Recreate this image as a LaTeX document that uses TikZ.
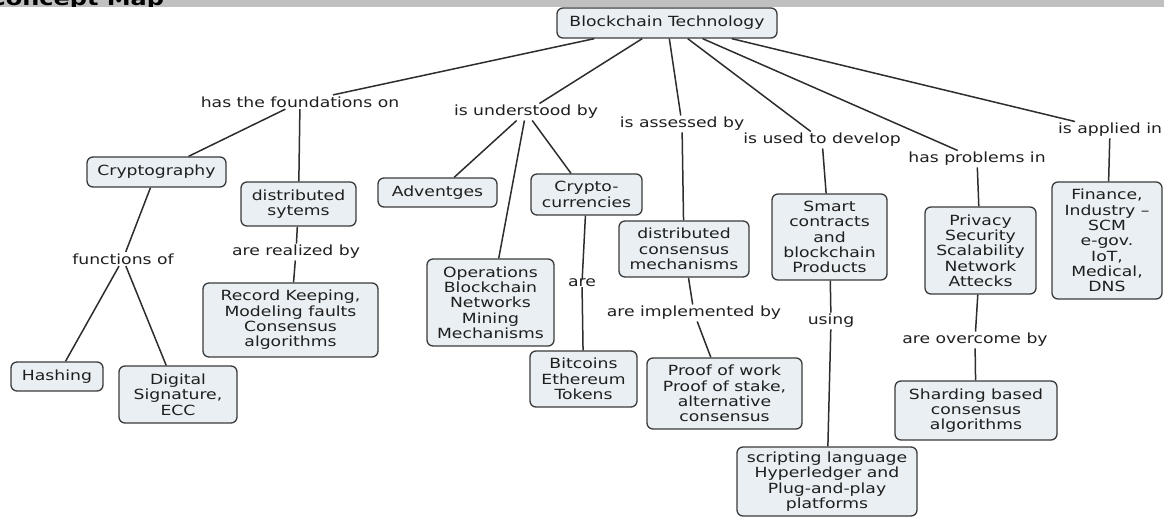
\documentclass[tikz,border=0pt]{standalone}
\usepackage{fontspec}
\setmainfont{DejaVu Sans}[FakeStretch=1.23]
\definecolor{boxfill}{RGB}{233,239,242}
\definecolor{boxline}{RGB}{58,58,58}
\definecolor{linkline}{RGB}{45,45,45}
\definecolor{band}{RGB}{192,192,192}
\begin{document}
\begin{tikzpicture}[x=1pt,y=-1pt,
  every node/.style={font=\fontsize{14}{15.3}\selectfont, text=black!88},
  concept/.style={draw=boxline, fill=boxfill, line width=1.3pt, rounded corners=6pt,
                  align=center, inner sep=1pt},
  linkword/.style={inner sep=1.5pt, align=center},
  link/.style={draw=linkline, line width=1.5pt}]
\useasboundingbox (0,0) rectangle (1164,518);

% title band at the top edge, cut by the page border
\begin{scope}
  \clip (0,0) rectangle (1164,7);
  \fill[band] (0,0) rectangle (1164,7);
  \node[anchor=base west, inner sep=0, text=black, font=\fontsize{19.5}{20}\selectfont\bfseries] (title) at (-12,5.5) {Concept Map};
\end{scope}

% concepts
\node[concept, minimum width=220pt, minimum height=30pt] (bt) at (667,23) {Blockchain Technology};
\node[concept, minimum width=139pt, minimum height=30pt] (crypto) at (156.5,172) {Cryptography};
\node[concept, minimum width=115pt, minimum height=44pt] (dsys) at (298.5,204) {distributed\\sytems};
\node[concept, minimum width=119pt, minimum height=29pt] (adv) at (437.5,192.5) {Adventges};
\node[concept, minimum width=111pt, minimum height=41pt] (ccur) at (586.5,194.5) {Crypto-\\currencies};
\node[concept, minimum width=127pt, minimum height=87pt] (ops) at (490.5,302.5) {Operations\\Blockchain\\Networks\\Mining\\Mechanisms};
\node[concept, minimum width=107pt, minimum height=56pt] (bit) at (583.5,379) {Bitcoins\\Ethereum\\Tokens};
\node[concept, minimum width=130pt, minimum height=56pt] (dcm) at (684,249) {distributed\\consensus\\mechanisms};
\node[concept, minimum width=115pt, minimum height=86pt] (smart) at (829.5,237) {Smart\\contracts\\and\\blockchain\\Products};
\node[concept, minimum width=111pt, minimum height=87pt] (priv) at (980.5,250.5) {Privacy\\Security\\Scalability\\Network\\Attecks};
\node[concept, minimum width=110pt, minimum height=117pt] (fin) at (1107,240.5) {Finance,\\Industry --\\SCM\\e-gov.\\IoT,\\Medical,\\DNS};
\node[concept, minimum width=175pt, minimum height=74pt] (rec) at (290.5,320) {Record Keeping,\\Modeling faults\\Consensus\\algorithms};
\node[concept, minimum width=92pt, minimum height=29pt] (hash) at (57,376.5) {Hashing};
\node[concept, minimum width=118pt, minimum height=57pt] (dsig) at (178,394.5) {Digital\\Signature,\\ECC};
\node[concept, minimum width=155pt, minimum height=71pt] (pow) at (724.5,393.5) {Proof of work\\Proof of stake,\\alternative\\consensus};
\node[concept, minimum width=180pt, minimum height=69pt] (script) at (827,481.5) {scripting language\\Hyperledger and\\Plug-and-play\\platforms};
\node[concept, minimum width=162pt, minimum height=59pt] (shard) at (976,410.5) {Sharding based\\consensus\\algorithms};

% linking phrases
\node[linkword] (lfound) at (300,102) {has the foundations on};
\node[linkword] (lunder) at (526,112) {is understood by};
\node[linkword] (lassess) at (682,124) {is assessed by};
\node[linkword] (lused) at (822,140) {is used to develop};
\node[linkword] (lprob) at (977,159) {has problems in};
\node[linkword] (lapply) at (1110,130) {is applied in};
\node[linkword] (lfunc) at (123,259) {functions of};
\node[linkword] (lreal) at (296,252) {are realized by};
\node[linkword, inner sep=0pt] (lare) at (582,283) {are};
\node[linkword] (limpl) at (694,313) {are implemented by};
\node[linkword] (lusing) at (831,321) {using};
\node[linkword] (lover) at (975,340) {are overcome by};

% connectors
\draw[link] (bt) -- (lfound);
\draw[link] (bt) -- (lunder);
\draw[link] (bt) -- (lassess);
\draw[link] (bt) -- (lused);
\draw[link] (bt) -- (lprob);
\draw[link] (bt) -- (lapply);
\draw[link] (lfound) -- (crypto);
\draw[link] (lfound) -- (dsys);
\draw[link] (lunder) -- (adv);
\draw[link] (lunder) -- (ops);
\draw[link] (lunder) -- (ccur);
\draw[link] (lassess) -- (dcm);
\draw[link] (lused) -- (smart);
\draw[link] (lprob) -- (priv);
\draw[link] (lapply) -- (fin);
\draw[link] (crypto) -- (lfunc);
\draw[link] (lfunc) -- (hash);
\draw[link] (lfunc) -- (dsig);
\draw[link] (dsys) -- (lreal);
\draw[link] (lreal) -- (rec);
\draw[link] (ccur) -- (lare);
\draw[link] (lare) -- (bit);
\draw[link] (dcm) -- (limpl);
\draw[link] (limpl) -- (pow);
\draw[link] (smart) -- (lusing);
\draw[link] (lusing) -- (script);
\draw[link] (priv) -- (lover);
\draw[link] (lover) -- (shard);
\end{tikzpicture}
\end{document}
